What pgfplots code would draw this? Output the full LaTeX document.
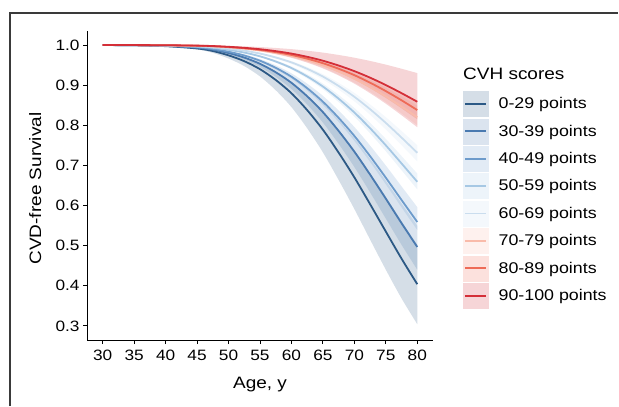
\documentclass[border=0pt]{standalone}
\usepackage{fontspec}
\setmainfont{Liberation Sans}[FakeStretch=1.15]
\usepackage{pgfplots}
\pgfplotsset{compat=1.18}
\usepgfplotslibrary{fillbetween}
\usepackage{pgfplotstable}

\definecolor{cA}{HTML}{2C5985}
\definecolor{cB}{HTML}{4A7AB0}
\definecolor{cC}{HTML}{6D9BCB}
\definecolor{cD}{HTML}{A6C8E4}
\definecolor{cE}{HTML}{CADDEE}
\definecolor{cF}{HTML}{F9BBAA}
\definecolor{cG}{HTML}{EE6B57}
\definecolor{cH}{HTML}{D42F38}
\definecolor{framec}{HTML}{3A3A3A}

% columns: age, estimate, lower and upper confidence limit
\pgfplotstableread{
age mid lo hi
30 1 1 1
35 0.9994 0.9992 0.9995
40 0.9972 0.9963 0.9979
45 0.9915 0.9889 0.9936
47.5 0.9851 0.9805 0.9887
50 0.9743 0.9664 0.9804
52.5 0.9598 0.9476 0.9693
55 0.9399 0.9218 0.9540
57.5 0.9130 0.8874 0.9332
60 0.8799 0.8453 0.9073
62.5 0.8378 0.7926 0.8742
65 0.7890 0.7326 0.8352
67.5 0.7320 0.6638 0.7889
70 0.6703 0.5914 0.7379
72.5 0.6035 0.5153 0.6813
75 0.5353 0.4402 0.6219
77.5 0.4677 0.3687 0.5612
80 0.4041 0.3044 0.5023
}\tabA
\pgfplotstableread{
age mid lo hi
30 1 1 1
35 0.9995 0.9995 0.9996
40 0.9978 0.9975 0.9982
45 0.9935 0.9923 0.9944
47.5 0.9885 0.9865 0.9901
50 0.9801 0.9767 0.9830
52.5 0.9688 0.9635 0.9733
55 0.9533 0.9454 0.9599
57.5 0.9322 0.9209 0.9417
60 0.9059 0.8905 0.9190
62.5 0.8723 0.8518 0.8898
65 0.8328 0.8068 0.8552
67.5 0.7859 0.7537 0.8139
70 0.7343 0.6960 0.7680
72.5 0.6771 0.6329 0.7166
75 0.6172 0.5676 0.6620
77.5 0.5561 0.5023 0.6056
80 0.4969 0.4401 0.5499
}\tabB
\pgfplotstableread{
age mid lo hi
30 1 1 1
35 0.9996 0.9996 0.9997
40 0.9982 0.9981 0.9984
45 0.9946 0.9942 0.9952
47.5 0.9904 0.9898 0.9915
50 0.9834 0.9824 0.9853
52.5 0.9740 0.9724 0.9769
55 0.9610 0.9586 0.9652
57.5 0.9433 0.9398 0.9494
60 0.9211 0.9164 0.9295
62.5 0.8926 0.8863 0.9038
65 0.8588 0.8508 0.8735
67.5 0.8185 0.8083 0.8368
70 0.7735 0.7612 0.7958
72.5 0.7231 0.7087 0.7495
75 0.6694 0.6529 0.6998
77.5 0.6139 0.5955 0.6479
80 0.5590 0.5391 0.5961
}\tabC
\pgfplotstableread{
age mid lo hi
30 1 1 1
35 0.9997 0.9997 0.9997
40 0.9987 0.9986 0.9988
45 0.9961 0.9958 0.9964
47.5 0.9931 0.9926 0.9936
50 0.9881 0.9873 0.9890
52.5 0.9813 0.9800 0.9827
55 0.9719 0.9700 0.9739
57.5 0.9590 0.9562 0.9620
60 0.9428 0.9390 0.9469
62.5 0.9218 0.9166 0.9274
65 0.8967 0.8899 0.9039
67.5 0.8663 0.8577 0.8755
70 0.8319 0.8214 0.8433
72.5 0.7927 0.7800 0.8065
75 0.7501 0.7353 0.7662
77.5 0.7050 0.6880 0.7234
80 0.6592 0.6403 0.6798
}\tabD
\pgfplotstableread{
age mid lo hi
30 1 1 1
35 0.9998 0.9998 0.9998
40 0.9990 0.9989 0.9991
45 0.9971 0.9968 0.9973
47.5 0.9948 0.9943 0.9953
50 0.9911 0.9902 0.9918
52.5 0.9860 0.9846 0.9871
55 0.9788 0.9768 0.9805
57.5 0.9691 0.9662 0.9716
60 0.9568 0.9528 0.9602
62.5 0.9408 0.9353 0.9454
65 0.9215 0.9143 0.9276
67.5 0.8980 0.8888 0.9058
70 0.8711 0.8597 0.8809
72.5 0.8401 0.8262 0.8521
75 0.8060 0.7895 0.8203
77.5 0.7694 0.7503 0.7859
80 0.7316 0.7100 0.7504
}\tabE
\pgfplotstableread{
age mid lo hi
30 1 1 1
35 0.9999 0.9999 0.9999
40 0.9994 0.9993 0.9995
45 0.9981 0.9979 0.9985
47.5 0.9967 0.9963 0.9973
50 0.9943 0.9936 0.9953
52.5 0.9911 0.9900 0.9926
55 0.9865 0.9849 0.9889
57.5 0.9803 0.9779 0.9838
60 0.9724 0.9690 0.9772
62.5 0.9620 0.9574 0.9686
65 0.9494 0.9434 0.9582
67.5 0.9340 0.9261 0.9454
70 0.9161 0.9063 0.9305
72.5 0.8953 0.8832 0.9131
75 0.8721 0.8574 0.8936
77.5 0.8467 0.8294 0.8721
80 0.8200 0.8002 0.8495
}\tabF
\pgfplotstableread{
age mid lo hi
30 1 1 1
35 0.9999 0.9999 0.9999
40 0.9995 0.9994 0.9995
45 0.9983 0.9981 0.9986
47.5 0.9971 0.9966 0.9975
50 0.9949 0.9941 0.9957
52.5 0.9920 0.9908 0.9932
55 0.9880 0.9861 0.9898
57.5 0.9824 0.9796 0.9850
60 0.9753 0.9715 0.9790
62.5 0.9661 0.9608 0.9710
65 0.9548 0.9479 0.9614
67.5 0.9410 0.9319 0.9495
70 0.9250 0.9136 0.9358
72.5 0.9062 0.8922 0.9196
75 0.8852 0.8682 0.9014
77.5 0.8623 0.8421 0.8814
80 0.8380 0.8148 0.8604
}\tabG
\pgfplotstableread{
age mid lo hi
30 1 1 1
35 0.9999 0.9999 1.0000
40 0.9995 0.9993 0.9998
45 0.9986 0.9979 0.9993
47.5 0.9975 0.9962 0.9988
50 0.9956 0.9934 0.9979
52.5 0.9931 0.9897 0.9967
55 0.9896 0.9844 0.9951
57.5 0.9848 0.9772 0.9927
60 0.9787 0.9681 0.9898
62.5 0.9707 0.9562 0.9859
65 0.9610 0.9418 0.9812
67.5 0.9489 0.9241 0.9753
70 0.9350 0.9038 0.9685
72.5 0.9187 0.8800 0.9604
75 0.9003 0.8538 0.9512
77.5 0.8801 0.8251 0.9410
80 0.8588 0.7952 0.9301
}\tabH

% confidence band of one group
\newcommand\cband[3]{%
  \addplot[draw=none, smooth, name path=L#1, forget plot] table[x=age,y=lo]{#2};
  \addplot[draw=none, smooth, name path=H#1, forget plot] table[x=age,y=hi]{#2};
  \addplot[fill=#3, fill opacity=0.2, draw=none, forget plot] fill between[of=L#1 and H#1];
}
\newcommand\cmid[2]{%
  \addplot[#2, line width=1.8bp, smooth, forget plot] table[x=age,y=mid]{#1};
}
\newcommand\ckey[2]{%
  \addlegendimage{legend image code/.code={%
    \fill[#1!20] (0bp,-12.5bp) rectangle (25bp,12.5bp);
    \draw[#1, line width=1.8bp] (2bp,0bp) -- (23bp,0bp);}}
  \addlegendentry{#2}
}

\begin{document}
\begin{tikzpicture}
\draw[framec, line width=2bp] (10bp,-406bp) -- (10bp,-13bp) -- (618bp,-13bp);
\begin{axis}[
  at={(87bp,-340bp)}, anchor=south west,
  scale only axis, width=346bp, height=309bp,
  xmin=27.5, xmax=82.5, ymin=0.265, ymax=1.035,
  axis x line*=bottom, axis y line*=left,
  axis line style={black, line width=1bp},
  tick style={black, line width=1bp},
  tick align=outside, major tick length=4bp,
  xtick={30,35,...,80},
  ytick={0.3,0.4,0.5,0.6,0.7,0.8,0.9,1.0},
  /pgf/number format/assume math mode=true,
  yticklabel style={/pgf/number format/fixed, /pgf/number format/fixed zerofill,
    /pgf/number format/precision=1},
  xticklabel style={yshift=-3bp},
  tick label style={font=\fontsize{15bp}{18bp}\selectfont, black},
  xlabel={Age, y}, ylabel={CVD-free Survival},
  label style={font=\fontsize{16.5bp}{19bp}\selectfont},
  xlabel style={at={(axis description cs:0.5,-0.1456)}, anchor=center},
  ylabel style={at={(axis description cs:-0.150,0.49)}, anchor=center},
  legend style={at={(rel axis cs:1.0867,0.806)}, anchor=north west,
    draw=none, fill=none, inner sep=0pt, row sep=2bp, column sep=10bp,
    nodes={inner sep=0pt, font=\fontsize{15.5bp}{18bp}\selectfont}},
  legend cell align=left,
]
\cband{A}{\tabA}{cA}
\cband{B}{\tabB}{cB}
\cband{C}{\tabC}{cC}
\cband{D}{\tabD}{cD}
\cband{E}{\tabE}{cE}
\cband{F}{\tabF}{cF}
\cband{G}{\tabG}{cG}
\cband{H}{\tabH}{cH}
\cmid{\tabA}{cA}
\cmid{\tabB}{cB}
\cmid{\tabC}{cC}
\cmid{\tabD}{cD}
\cmid{\tabE}{cE}
\cmid{\tabF}{cF}
\cmid{\tabG}{cG}
\cmid{\tabH}{cH}
\ckey{cA}{0-29 points}
\ckey{cB}{30-39 points}
\ckey{cC}{40-49 points}
\ckey{cD}{50-59 points}
\ckey{cE}{60-69 points}
\ckey{cF}{70-79 points}
\ckey{cG}{80-89 points}
\ckey{cH}{90-100 points}
\end{axis}
\node[anchor=west, font=\fontsize{16.5bp}{19bp}\selectfont, inner sep=0pt] at (463bp,-74bp) {CVH scores};
\pgfresetboundingbox
\path[use as bounding box] (0,0) rectangle (619bp,-407bp);
\end{tikzpicture}
\end{document}
